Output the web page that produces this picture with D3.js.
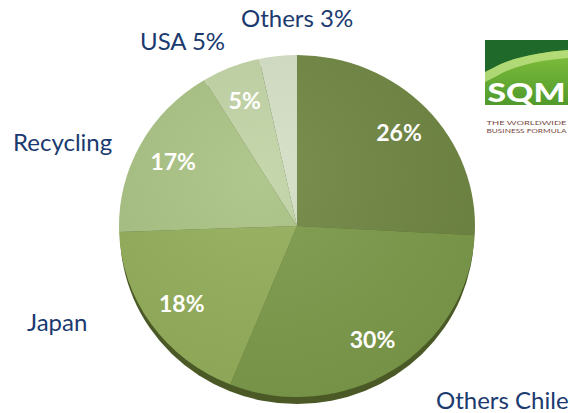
<!DOCTYPE html>
<html lang="en">
<head>
<meta charset="utf-8">
<title>Sales by destination</title>
<script src="https://cdn.jsdelivr.net/npm/d3@7"></script>
<style>
  body { margin: 0; background: #fff; }
  svg { display: block; }
  text { font-family: Lato, "Open Sans", sans-serif; }
</style>
</head>
<body>
<script>
// data, clockwise from 12 o'clock
var categories = ["Chile SQM", "Others Chile", "Japan", "Recycling", "USA", "Others"];
var shares = [25.8, 30.2, 18.3, 16.8, 5.3, 3.4];
var sliceColors = ["#6f8642", "#7b9a4a", "#93ae5a", "#a9c283", "#c1d3a5", "#d4dfc5"];

// outside category labels (text only)
var outerLabels = ["Others Chile", "Japan", "Recycling", "USA 5%", "Others 3%"];

var w = 570, h = 413;
var cx = 297, cy = 226;
var rx = 178, ry = 171;
var rim = 7;

var svg = d3.select("body").append("svg")
  .attr("width", w)
  .attr("height", h);

var defs = svg.append("defs");
var shade = defs.append("radialGradient")
  .attr("id", "shade")
  .attr("cx", "40%").attr("cy", "35%").attr("r", "75%");
shade.append("stop").attr("offset", "0%").attr("stop-color", "#fff").attr("stop-opacity", 0.08);
shade.append("stop").attr("offset", "100%").attr("stop-color", "#000").attr("stop-opacity", 0.06);

// dark rim under the pie
svg.append("ellipse")
  .attr("cx", cx)
  .attr("cy", cy + rim)
  .attr("rx", rx - 1)
  .attr("ry", ry)
  .attr("fill", "#4a5926");

var pie = d3.pie().sort(null).value(function(d) { return d; });
var arcs = pie(shares);

var arc = d3.arc().innerRadius(0).outerRadius(rx);

var g = svg.append("g")
  .attr("transform", "translate(" + cx + "," + cy + ") scale(1," + (ry / rx) + ")");

g.selectAll("path.slice")
  .data(arcs)
  .enter()
  .append("path")
  .attr("class", "slice")
  .attr("d", arc)
  .attr("fill", function(d, i) { return sliceColors[i]; });

g.append("circle")
  .attr("r", rx)
  .attr("fill", "url(#shade)");

// percent labels inside the slices
var labelArc = d3.arc().innerRadius(rx * 0.79).outerRadius(rx * 0.79);
svg.selectAll("text.pct")
  .data(arcs.slice(0, 5))
  .enter()
  .append("text")
  .attr("class", "pct")
  .attr("x", function(d) { return cx + labelArc.centroid(d)[0]; })
  .attr("y", function(d) { return cy + labelArc.centroid(d)[1] * ry / rx; })
  .attr("dy", "0.36em")
  .attr("text-anchor", "middle")
  .attr("fill", "#fff")
  .attr("font-weight", "bold")
  .attr("font-size", 23)
  .text(function(d) { return Math.round(d.data) + "%"; });

// category labels around the pie
var outerPos = [[436, 409], [27, 331], [13, 151], [140, 50], [241, 27]];
svg.selectAll("text.cat")
  .data(outerLabels)
  .enter()
  .append("text")
  .attr("class", "cat")
  .attr("x", function(d, i) { return outerPos[i][0]; })
  .attr("y", function(d, i) { return outerPos[i][1]; })
  .attr("fill", "#1b3a6f")
  .attr("font-size", 24)
  .text(function(d) { return d; });

// SQM logo
var logo = svg.append("g").attr("transform", "translate(485,40)");
var lg = defs.append("linearGradient")
  .attr("id", "logoGreen")
  .attr("x1", "0").attr("y1", "0").attr("x2", "0").attr("y2", "1");
lg.append("stop").attr("offset", "0%").attr("stop-color", "#8cc640");
lg.append("stop").attr("offset", "100%").attr("stop-color", "#4f9a2c");
logo.append("rect")
  .attr("width", 83).attr("height", 65)
  .attr("fill", "url(#logoGreen)");
logo.append("path")
  .attr("d", "M0,0 L83,0 L83,10 C55,12 25,18 8,28 L0,32 Z")
  .attr("fill", "#1f6a2b");
logo.append("path")
  .attr("d", "M0,32 L8,28 C25,18 55,12 83,10 L83,18 C55,20 28,26 12,36 L0,42 Z")
  .attr("fill", "#c4e58a")
  .attr("opacity", 0.75);
logo.append("text")
  .attr("x", 41.5).attr("y", 62)
  .attr("text-anchor", "middle")
  .attr("fill", "#fff")
  .attr("font-weight", 900)
  .attr("font-size", 27)
  .attr("textLength", 78)
  .attr("lengthAdjust", "spacingAndGlyphs")
  .text("SQM");
logo.append("text")
  .attr("x", 41.5).attr("y", 85)
  .attr("text-anchor", "middle")
  .attr("fill", "#7a4a44")
  .attr("font-size", 6.5)
  .attr("textLength", 80)
  .attr("lengthAdjust", "spacingAndGlyphs")
  .text("THE WORLDWIDE");
logo.append("text")
  .attr("x", 41.5).attr("y", 93)
  .attr("text-anchor", "middle")
  .attr("fill", "#7a4a44")
  .attr("font-size", 6.5)
  .attr("textLength", 80)
  .attr("lengthAdjust", "spacingAndGlyphs")
  .text("BUSINESS FORMULA");
</script>
</body>
</html>
